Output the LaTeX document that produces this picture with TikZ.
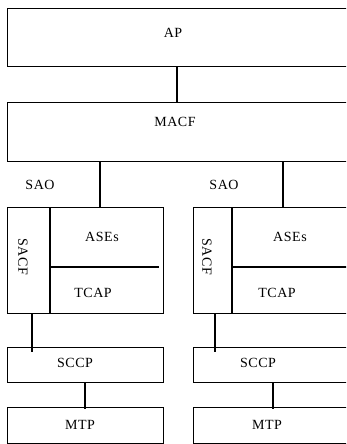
\documentclass[tikz,border=0pt]{standalone}
\usepackage{fontspec}
\setmainfont[LetterSpace=4]{Liberation Serif}
\begin{document}
\begin{tikzpicture}[
        x=1pt, y=-1pt,
        layer/.style={rectangle, draw, line width=1.1pt, anchor=north west, inner sep=0pt},
        lbl/.style={font=\fontsize{14}{16}\selectfont, inner sep=0pt},
        link/.style={draw, line width=1.1pt}
    ]
        \useasboundingbox (0,0) rectangle (346,444);
        \clip (0,0) rectangle (346,444);

        % application layers
        \node[layer, minimum width=360, minimum height=58] (ap) at (7,8) {};
        \node[layer, minimum width=360, minimum height=59] (macf) at (7,102) {};
        \node[lbl] (apt) at (173,33) {AP};
        \node[lbl] (macft) at (175,122) {MACF};

        % the two SAOs
        \node[layer, minimum width=156, minimum height=106] (sao1) at (7,207) {};
        \node[layer, minimum width=170, minimum height=106] (sao2) at (193,207) {};
        \node[lbl] (saot1) at (40,185) {SAO};
        \node[lbl] (saot2) at (224,185) {SAO};

        \coordinate (div1) at (50,0);
        \coordinate (div2) at (232,0);
        \coordinate (mid) at (0,267);
        \draw[link] (sao1.north -| div1) -- (sao1.south -| div1);
        \draw[link] (sao2.north -| div2) -- (sao2.south -| div2);
        \draw[link] (mid -| div1) -- ([xshift=-5]mid -| sao1.east);
        \draw[link] (mid -| div2) -- (mid -| sao2.east);

        \node[lbl, rotate=-90] (sacf1) at (23,257) {SACF};
        \node[lbl, rotate=-90] (sacf2) at (207,257) {SACF};
        \node[lbl] (ases1) at (102,237) {ASEs};
        \node[lbl] (ases2) at (290,237) {ASEs};
        \node[lbl] (tcap1) at (93,293) {TCAP};
        \node[lbl] (tcap2) at (277,293) {TCAP};

        % network layers
        \node[layer, minimum width=156, minimum height=35] (sccp1) at (7,347) {};
        \node[layer, minimum width=170, minimum height=35] (sccp2) at (193,347) {};
        \node[layer, minimum width=156, minimum height=36] (mtp1) at (7,407) {};
        \node[layer, minimum width=170, minimum height=36] (mtp2) at (193,407) {};
        \node[lbl] (sccpt1) at (75,363) {SCCP};
        \node[lbl] (sccpt2) at (258,363) {SCCP};
        \node[lbl] (mtpt1) at (80,425) {MTP};
        \node[lbl] (mtpt2) at (267,425) {MTP};

        % connections
        \coordinate (c0) at (177,0);
        \coordinate (c1) at (100,0);
        \coordinate (c2) at (283,0);
        \coordinate (c3) at (32,0);
        \coordinate (c4) at (215,0);
        \coordinate (c5) at (85,0);
        \coordinate (c6) at (273,0);
        \draw[link] (ap.south -| c0) -- (macf.north -| c0);
        \draw[link] (macf.south -| c1) -- (sao1.north -| c1);
        \draw[link] (macf.south -| c2) -- (sao2.north -| c2);
        \draw[link] (sao1.south -| c3) -- ([yshift=-5]sccp1.north -| c3);
        \draw[link] (sao2.south -| c4) -- ([yshift=-5]sccp2.north -| c4);
        \draw[link] (sccp1.south -| c5) -- ([yshift=-2]mtp1.north -| c5);
        \draw[link] (sccp2.south -| c6) -- ([yshift=-2]mtp2.north -| c6);
    \end{tikzpicture}
\end{document}
